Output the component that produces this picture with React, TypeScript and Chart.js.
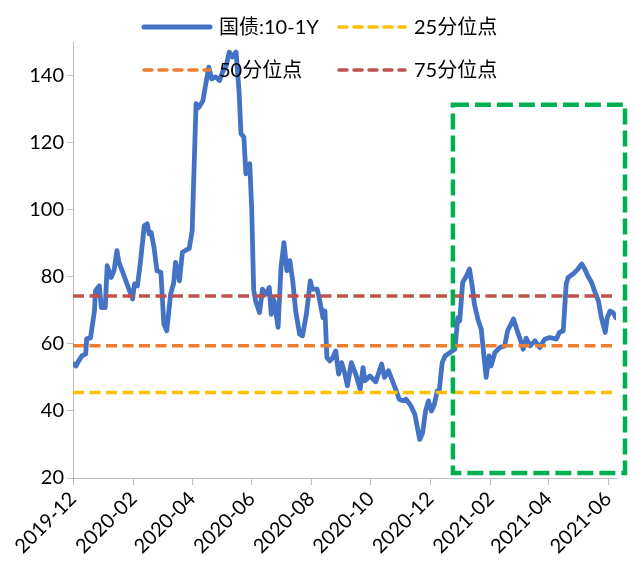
import React, { useEffect, useRef } from "react";
import { Chart, registerables } from "chart.js";

Chart.register(...registerables);

// ---- data ----
const dates = [
  "2019-12-02","2019-12-04","2019-12-07","2019-12-10","2019-12-14","2019-12-15","2019-12-19","2019-12-20","2019-12-23","2019-12-24",
  "2019-12-28","2019-12-30","2020-01-03","2020-01-05","2020-01-09","2020-01-12","2020-01-15","2020-01-17","2020-01-21","2020-01-26",
  "2020-01-31","2020-02-02","2020-02-05","2020-02-08","2020-02-12","2020-02-15","2020-02-17","2020-02-19","2020-02-22","2020-02-25",
  "2020-02-29","2020-03-03","2020-03-06","2020-03-10","2020-03-13","2020-03-15","2020-03-19","2020-03-22","2020-03-26","2020-03-29",
  "2020-04-01","2020-04-05","2020-04-08","2020-04-12","2020-04-15","2020-04-18","2020-04-21","2020-04-25","2020-04-29","2020-05-02",
  "2020-05-06","2020-05-09","2020-05-12","2020-05-16","2020-05-19","2020-05-21","2020-05-24","2020-05-26","2020-05-30","2020-06-01",
  "2020-06-03","2020-06-05","2020-06-09","2020-06-12","2020-06-16","2020-06-19","2020-06-21","2020-06-22","2020-06-24","2020-06-28",
  "2020-07-01","2020-07-04","2020-07-07","2020-07-10","2020-07-13","2020-07-16","2020-07-20","2020-07-23","2020-07-27","2020-07-31",
  "2020-08-02","2020-08-07","2020-08-09","2020-08-13","2020-08-15","2020-08-17","2020-08-20","2020-08-23","2020-08-26","2020-08-29",
  "2020-09-01","2020-09-04","2020-09-07","2020-09-11","2020-09-16","2020-09-20","2020-09-23","2020-09-25","2020-09-30","2020-10-06",
  "2020-10-12","2020-10-15","2020-10-19","2020-10-23","2020-10-27","2020-10-30","2020-11-03","2020-11-06","2020-11-11","2020-11-15",
  "2020-11-17","2020-11-20","2020-11-23","2020-11-26","2020-11-29","2020-12-02","2020-12-05","2020-12-08","2020-12-10","2020-12-13",
  "2020-12-16","2020-12-21","2020-12-26","2020-12-27","2020-12-29","2020-12-31","2021-01-03","2021-01-07","2021-01-10","2021-01-13",
  "2021-01-15","2021-01-19","2021-01-22","2021-01-26","2021-01-27","2021-01-30","2021-02-01","2021-02-05","2021-02-10","2021-02-15",
  "2021-02-18","2021-02-24","2021-03-01","2021-03-04","2021-03-06","2021-03-09","2021-03-13","2021-03-18","2021-03-23","2021-03-28",
  "2021-04-02","2021-04-09","2021-04-12","2021-04-16","2021-04-19","2021-04-21","2021-04-26","2021-05-01","2021-05-05","2021-05-08",
  "2021-05-11","2021-05-15","2021-05-18","2021-05-22","2021-05-25","2021-05-29","2021-05-31","2021-06-03","2021-06-06","2021-06-09",
];

const spread10y1y = [
  54.0,53.4,55.0,56.4,57.0,61.5,61.8,64.0,69.8,75.8,
  77.3,70.8,70.8,83.3,79.8,81.8,87.8,84.3,81.3,77.3,
  73.4,77.9,77.3,84.3,95.2,95.8,92.8,93.2,88.7,81.8,
  81.3,66.0,63.9,74.9,78.0,84.3,78.8,87.3,88.0,88.4,
  93.7,131.6,130.5,132.5,137.5,142.5,139.0,139.6,138.5,141.0,
  143.0,147.0,145.5,147.0,135.4,122.7,121.6,110.7,113.7,100.0,
  76.0,72.8,69.3,76.3,74.8,76.8,68.8,73.8,72.8,64.9,
  82.8,90.2,81.8,84.8,78.8,69.8,62.9,62.4,68.9,78.8,
  76.3,76.3,73.8,67.8,69.8,55.9,54.9,55.9,57.9,51.0,
  54.4,51.5,47.5,54.4,50.5,46.5,52.9,49.0,50.4,48.7,
  54.0,50.0,52.0,49.0,46.0,43.5,43.0,43.5,41.5,39.0,
  36.0,31.5,33.5,40.0,43.0,40.0,42.0,46.0,46.0,54.4,
  56.4,57.4,58.4,61.4,67.8,66.9,78.3,80.3,82.3,76.8,
  71.8,66.9,64.4,52.9,50.0,56.4,53.4,57.4,58.9,59.4,
  63.9,67.4,62.9,60.4,58.4,61.7,59.4,60.9,58.9,61.4,
  61.9,61.4,63.4,63.9,77.8,79.8,80.8,82.3,83.8,82.3,
  80.3,78.3,75.8,72.8,67.8,63.4,67.8,69.8,69.3,67.8,
];

const seriesLabels = ["国债:10-1Y", "25分位点", "50分位点", "75分位点"];
const percentileValues = [45.5, 59.4, 74.3]; // 25th, 50th, 75th
const tickMonths = ["2019-12","2020-02","2020-04","2020-06","2020-08","2020-10","2020-12","2021-02","2021-04","2021-06"];
const xStart = "2019-12-01";
const xEnd = "2021-06-09";
const yMin = 20;
const yMax = 150;
const yStep = 20;
const yLastLabel = 140;
// highlighted window (green dashed box)
const boxStart = "2020-12-24";
const boxEnd = "2021-06-19";
const boxTop = 131.3;
const boxBottom = 21.5;

// ---- styles ----
const colors = ["#4472C4", "#FFC000", "#ED7D31", "#C0504D"];
const boxColor = "#00B050";
const axisColor = "#BFBFBF";
const FONT = "Lato, 'Noto Sans CJK SC', sans-serif";
const FONT_SIZE = 20;

const DAY = 86400000;
const BASE = Date.UTC(2019, 11, 1);
function toDay(s: string): number {
  const p = s.split("-").map(Number);
  return Math.round((Date.UTC(p[0], p[1] - 1, p[2] || 1) - BASE) / DAY);
}

const legendPlugin = {
  id: "customLegend",
  afterDatasetsDraw(chart: any) {
    const ctx = chart.ctx as CanvasRenderingContext2D;
    const cols = [134, 329];
    const rows = [19, 62];
    const sampleLen = 68;
    ctx.save();
    ctx.font = `${FONT_SIZE}px ${FONT}`;
    ctx.textBaseline = "middle";
    ctx.textAlign = "left";
    seriesLabels.forEach((label, i) => {
      const cx = cols[i % 2];
      const cy = rows[Math.floor(i / 2)];
      ctx.beginPath();
      ctx.strokeStyle = colors[i];
      if (i === 0) {
        ctx.lineWidth = 5;
        ctx.lineCap = "round";
        ctx.setLineDash([]);
      } else {
        ctx.lineWidth = 3.5;
        ctx.lineCap = "round";
        ctx.setLineDash([8, 7]);
      }
      ctx.moveTo(cx + 2, cy);
      ctx.lineTo(cx + sampleLen, cy);
      ctx.stroke();
      ctx.setLineDash([]);
      ctx.fillStyle = "#000";
      ctx.fillText(label, cx + sampleLen + 9, cy + 1);
    });
    ctx.restore();
  },
};

const boxPlugin = {
  id: "highlightBox",
  afterDraw(chart: any) {
    const ctx = chart.ctx as CanvasRenderingContext2D;
    const xs = chart.scales.x;
    const ys = chart.scales.y;
    const x1 = xs.getPixelForValue(toDay(boxStart));
    const x2 = Math.min(xs.getPixelForValue(toDay(boxEnd)), chart.width - 3);
    const y1 = ys.getPixelForValue(boxTop);
    const y2 = ys.getPixelForValue(boxBottom);
    ctx.save();
    ctx.strokeStyle = boxColor;
    ctx.lineWidth = 4.5;
    ctx.setLineDash([16, 6]);
    ctx.strokeRect(x1, y1, x2 - x1, y2 - y1);
    ctx.restore();
  },
};

export default function App() {
  const ref = useRef<HTMLCanvasElement>(null);

  useEffect(() => {
    if (!ref.current) return;
    const x0 = toDay(xStart);
    const x1 = toDay(xEnd);
    const mainData = dates.map((d, i) => ({ x: toDay(d), y: spread10y1y[i] }));
    const pctSets = percentileValues.map((v, i) => ({
      label: seriesLabels[i + 1],
      data: [{ x: x0, y: v }, { x: x1, y: v }],
      borderColor: colors[i + 1],
      borderWidth: 3.5,
      borderDash: [11, 5.5],
      pointRadius: 0,
      fill: false,
      order: 0,
    }));
    const chart = new Chart(ref.current, {
      type: "line",
      data: {
        datasets: [
          {
            label: seriesLabels[0],
            data: mainData,
            borderColor: colors[0],
            borderWidth: 4.8,
            pointRadius: 0,
            tension: 0,
            fill: false,
            borderJoinStyle: "round",
            borderCapStyle: "round",
            order: 5,
          } as any,
          ...pctSets,
        ],
      },
      options: {
        responsive: false,
        animation: false,
        layout: { padding: { top: 34, right: 12, left: 0, bottom: 0 } },
        plugins: { legend: { display: false }, tooltip: { enabled: false } },
        scales: {
          x: {
            type: "linear",
            min: x0,
            max: x1,
            afterBuildTicks: (scale: any) => {
              scale.ticks = tickMonths.map((m) => ({ value: toDay(m + "-01") }));
            },
            afterFit: (scale: any) => {
              scale.height = 81;
            },
            ticks: {
              autoSkip: false,
              minRotation: 45,
              maxRotation: 45,
              padding: 2,
              color: "#000",
              font: { size: FONT_SIZE, family: FONT },
              callback: (_v: any, i: number) => tickMonths[i],
            },
            grid: { drawOnChartArea: false, drawTicks: true, tickLength: 7, color: axisColor },
            border: { display: true, color: axisColor, width: 1 },
          },
          y: {
            type: "linear",
            min: yMin,
            max: yMax,
            afterBuildTicks: (scale: any) => {
              scale.ticks = scale.ticks.filter((t: any) => t.value <= yLastLabel);
            },
            afterFit: (scale: any) => {
              scale.width = 65;
            },
            ticks: {
              stepSize: yStep,
              padding: 3,
              color: "#000",
              font: { size: FONT_SIZE, family: FONT },
            },
            grid: { drawOnChartArea: false, drawTicks: true, tickLength: 6, color: axisColor },
            border: { display: true, color: axisColor, width: 1 },
          },
        },
      },
      plugins: [legendPlugin, boxPlugin],
    });
    return () => chart.destroy();
  }, []);

  return <canvas ref={ref} width={620} height={551} style={{ display: "block" }} />;
}
